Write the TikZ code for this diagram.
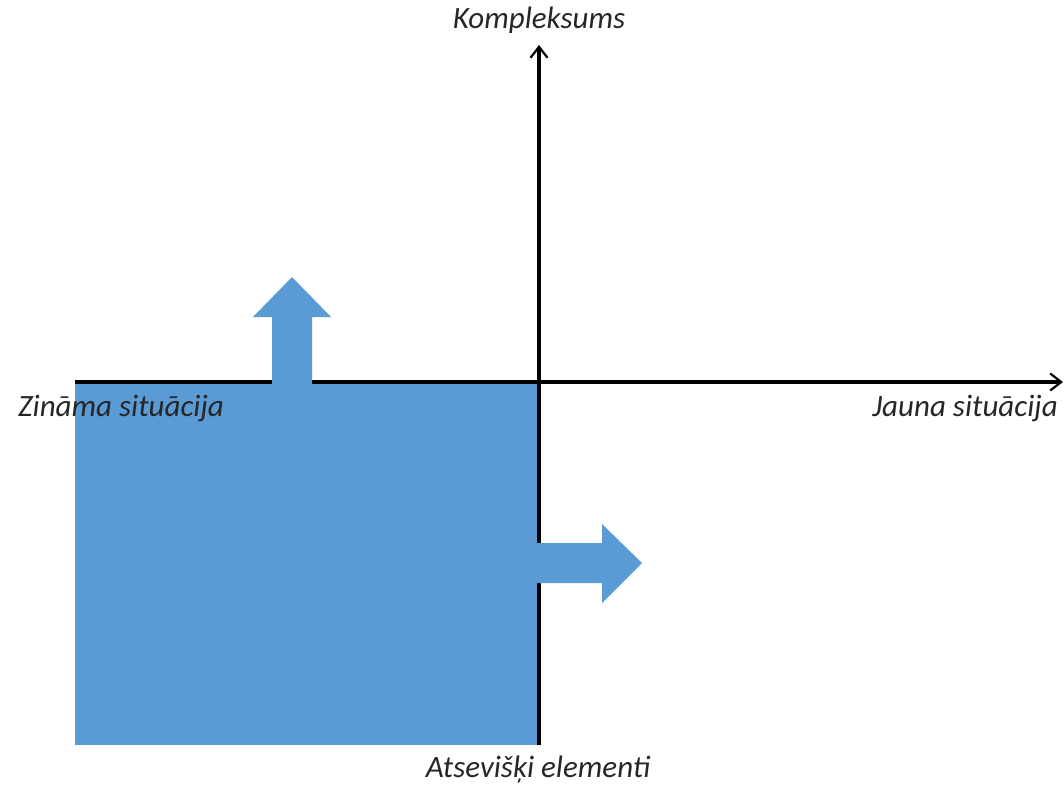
\documentclass[tikz,border=0pt]{standalone}
\usepackage{fontspec}
\setmainfont{Carlito}
\usetikzlibrary{arrows.meta, positioning}
\definecolor{BlockBlue}{HTML}{5B9BD5}

\begin{document}
\begin{tikzpicture}[
    x=1pt, y=-1pt,
    axis/.style={
        draw=black,
        line width=3.2pt,
        -{Straight Barb[length=11pt, width=17pt, line width=2.2pt]}
    },
    block/.style={
        fill=BlockBlue,
        draw=none
    },
    axislabel/.style={
        font=\fontsize{31}{34}\selectfont\itshape,
        text=black!85,
        inner sep=0pt
    }
]
\useasboundingbox (0,0) rectangle (1064,787);

% Axis points
\coordinate (O) at (539,382);
\coordinate (top) at (539,45);
\coordinate (bottom) at (539,745);
\coordinate (left) at (75,382);
\coordinate (right) at (1063,382);

% Known area
\fill[block] (left) rectangle (bottom);

% Axes
\draw[axis] (bottom) -- (top);
\draw[axis] (left) -- (right);

% Block arrows
\fill[block] (272,384) -- (272,317) -- (253,317) -- (292,277)
    -- (331,317) -- (312,317) -- (312,384) -- cycle;
\fill[block] (537,543) -- (602,543) -- (602,524) -- (642,563)
    -- (602,603) -- (602,583) -- (537,583) -- cycle;

% Labels
\node[axislabel] (kompl) at (539,20) {Kompleksums};
\node[axislabel, anchor=west] (zinama) at (18,408) {Zināma situācija};
\node[axislabel, anchor=east] (jauna) at (1058,408) {Jauna situācija};
\node[axislabel] (atsev) at (538,770) {Atsevišķi elementi};

\end{tikzpicture}
\end{document}
